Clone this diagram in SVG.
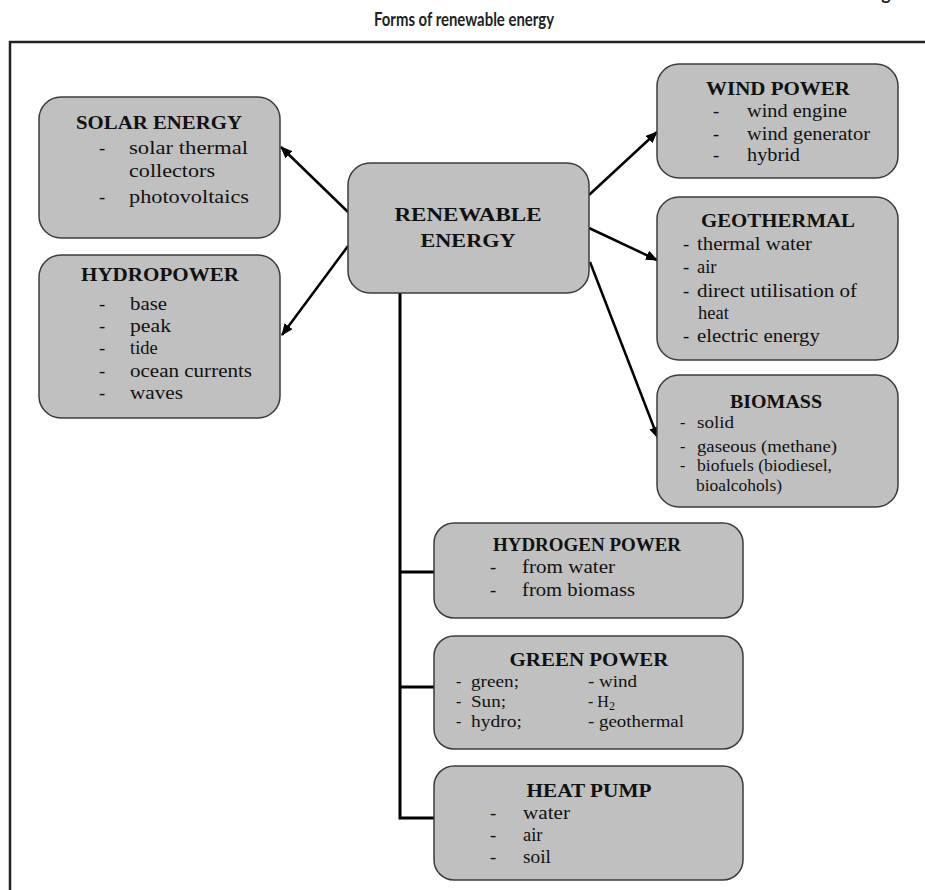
<svg xmlns="http://www.w3.org/2000/svg" width="925" height="890" viewBox="0 0 925 890">
<style>
  .box { fill: #c0c0c0; stroke: #3c3c3c; stroke-width: 1.5; }
  .h { font-family: "Liberation Serif", "Times New Roman", serif; font-weight: bold; font-size: 18px; fill: #111; text-anchor: middle; }
  .t { font-family: "Liberation Serif", "Times New Roman", serif; font-size: 18.5px; fill: #111; }
  .s { font-family: "Liberation Serif", "Times New Roman", serif; font-size: 16px; fill: #111; }
  .title { font-family: "Lato", "Liberation Sans", sans-serif; font-weight: bold; font-size: 18px; fill: #222; text-anchor: middle; }
  .conn { fill: none; stroke: #000; stroke-width: 3; }
  .arr { fill: none; stroke: #000; stroke-width: 2.5; marker-end: url(#ah); }
  .frame { fill: none; stroke: #222; stroke-width: 2.5; }
</style>
<defs>
  <marker id="ah" markerUnits="userSpaceOnUse" markerWidth="12" markerHeight="10" refX="11" refY="5" orient="auto">
    <path d="M0,0 L12,5 L0,10 z" fill="#000"/>
  </marker>
</defs>
<rect width="925" height="890" fill="#fff"/>
<text class="title" x="886" y="0">g</text>
<text class="title" x="464" y="26" textLength="180" lengthAdjust="spacingAndGlyphs">Forms of renewable energy</text>
<path class="frame" d="M10,890 V42 H925"/>

<g id="connectors">
  <path class="conn" d="M400,293 V818 H434 M400,572 H434 M400,687 H434"/>
  <line class="arr" x1="348" y1="212" x2="281" y2="147"/>
  <line class="arr" x1="348" y1="246" x2="282" y2="335"/>
  <line class="arr" x1="589" y1="195" x2="657" y2="132"/>
  <line class="arr" x1="589" y1="228" x2="657" y2="260"/>
  <line class="arr" x1="590" y1="262" x2="658" y2="438"/>
</g>

<g id="solar">
  <rect class="box" x="39" y="97" width="241" height="141" rx="22"/>
  <text class="h" x="159" y="129" textLength="166" lengthAdjust="spacingAndGlyphs">SOLAR ENERGY</text>
  <text class="t" x="99" y="154">-</text><text class="t" x="129" y="154" textLength="119" lengthAdjust="spacingAndGlyphs">solar thermal</text>
  <text class="t" x="129" y="177" textLength="86" lengthAdjust="spacingAndGlyphs">collectors</text>
  <text class="t" x="99" y="203">-</text><text class="t" x="129" y="203" textLength="120" lengthAdjust="spacingAndGlyphs">photovoltaics</text>
</g>

<g id="hydropower">
  <rect class="box" x="39" y="255" width="241" height="163" rx="22"/>
  <text class="h" x="160" y="281" textLength="158" lengthAdjust="spacingAndGlyphs">HYDROPOWER</text>
  <text class="t" x="99" y="310">-</text><text class="t" x="130" y="310" textLength="37" lengthAdjust="spacingAndGlyphs">base</text>
  <text class="t" x="99" y="332">-</text><text class="t" x="130" y="332" textLength="41" lengthAdjust="spacingAndGlyphs">peak</text>
  <text class="t" x="99" y="354">-</text><text class="t" x="130" y="354">tide</text>
  <text class="t" x="99" y="377">-</text><text class="t" x="130" y="377" textLength="122" lengthAdjust="spacingAndGlyphs">ocean currents</text>
  <text class="t" x="99" y="399">-</text><text class="t" x="130" y="399" textLength="53" lengthAdjust="spacingAndGlyphs">waves</text>
</g>

<g id="renewable">
  <rect class="box" x="348" y="163" width="241" height="130" rx="22"/>
  <text class="h" x="468" y="221" textLength="147" lengthAdjust="spacingAndGlyphs">RENEWABLE</text>
  <text class="h" x="468" y="247" textLength="95" lengthAdjust="spacingAndGlyphs">ENERGY</text>
</g>

<g id="wind">
  <rect class="box" x="657" y="64" width="241" height="114" rx="22"/>
  <text class="h" x="778" y="95" textLength="144" lengthAdjust="spacingAndGlyphs">WIND POWER</text>
  <text class="t" x="713" y="117">-</text><text class="t" x="747" y="117" textLength="100" lengthAdjust="spacingAndGlyphs">wind engine</text>
  <text class="t" x="713" y="140">-</text><text class="t" x="747" y="140" textLength="123" lengthAdjust="spacingAndGlyphs">wind generator</text>
  <text class="t" x="713" y="161">-</text><text class="t" x="747" y="161" textLength="53" lengthAdjust="spacingAndGlyphs">hybrid</text>
</g>

<g id="geothermal">
  <rect class="box" x="657" y="197" width="241" height="163" rx="22"/>
  <text class="h" x="778" y="227" textLength="154" lengthAdjust="spacingAndGlyphs">GEOTHERMAL</text>
  <text class="t" x="683" y="250">-</text><text class="t" x="697" y="250" textLength="115" lengthAdjust="spacingAndGlyphs">thermal water</text>
  <text class="t" x="683" y="273">-</text><text class="t" x="697" y="273">air</text>
  <text class="t" x="683" y="297">-</text><text class="t" x="697" y="297" textLength="160" lengthAdjust="spacingAndGlyphs">direct utilisation of</text>
  <text class="t" x="698" y="319">heat</text>
  <text class="t" x="683" y="342">-</text><text class="t" x="697" y="342" textLength="123" lengthAdjust="spacingAndGlyphs">electric energy</text>
</g>

<g id="biomass">
  <rect class="box" x="657" y="375" width="241" height="132" rx="22"/>
  <text class="h" x="776" y="408" textLength="92" lengthAdjust="spacingAndGlyphs">BIOMASS</text>
  <text class="s" x="680" y="428">-</text><text class="s" x="697" y="428" textLength="37" lengthAdjust="spacingAndGlyphs">solid</text>
  <text class="s" x="680" y="452">-</text><text class="s" x="697" y="452" textLength="140" lengthAdjust="spacingAndGlyphs">gaseous (methane)</text>
  <text class="s" x="680" y="471">-</text><text class="s" x="697" y="471" textLength="135" lengthAdjust="spacingAndGlyphs">biofuels (biodiesel,</text>
  <text class="s" x="696" y="491" textLength="86" lengthAdjust="spacingAndGlyphs">bioalcohols)</text>
</g>

<g id="hydrogen">
  <rect class="box" x="434" y="523" width="309" height="95" rx="20"/>
  <text class="h" x="587" y="551" textLength="188" lengthAdjust="spacingAndGlyphs">HYDROGEN POWER</text>
  <text class="t" x="490" y="573">-</text><text class="t" x="522" y="573" textLength="93" lengthAdjust="spacingAndGlyphs">from water</text>
  <text class="t" x="490" y="596">-</text><text class="t" x="522" y="596" textLength="113" lengthAdjust="spacingAndGlyphs">from biomass</text>
</g>

<g id="green">
  <rect class="box" x="434" y="636" width="309" height="113" rx="20"/>
  <text class="h" x="589" y="666" textLength="159" lengthAdjust="spacingAndGlyphs">GREEN POWER</text>
  <text class="s" x="456" y="687">-</text><text class="s" x="471" y="687" textLength="48" lengthAdjust="spacingAndGlyphs">green;</text>
  <text class="s" x="456" y="707">-</text><text class="s" x="471" y="707" textLength="35" lengthAdjust="spacingAndGlyphs">Sun;</text>
  <text class="s" x="456" y="727">-</text><text class="s" x="471" y="727" textLength="51" lengthAdjust="spacingAndGlyphs">hydro;</text>
  <text class="s" x="588" y="687" textLength="49" lengthAdjust="spacingAndGlyphs">- wind</text>
  <text class="s" x="588" y="707">- H<tspan font-size="12" dy="3">2</tspan></text>
  <text class="s" x="588" y="727" textLength="96" lengthAdjust="spacingAndGlyphs">- geothermal</text>
</g>

<g id="heatpump">
  <rect class="box" x="434" y="766" width="309" height="114" rx="20"/>
  <text class="h" x="589" y="797" textLength="125" lengthAdjust="spacingAndGlyphs">HEAT PUMP</text>
  <text class="t" x="490" y="819">-</text><text class="t" x="523" y="819" textLength="47" lengthAdjust="spacingAndGlyphs">water</text>
  <text class="t" x="490" y="841">-</text><text class="t" x="523" y="841">air</text>
  <text class="t" x="490" y="863">-</text><text class="t" x="523" y="863" textLength="28" lengthAdjust="spacingAndGlyphs">soil</text>
</g>
</svg>
